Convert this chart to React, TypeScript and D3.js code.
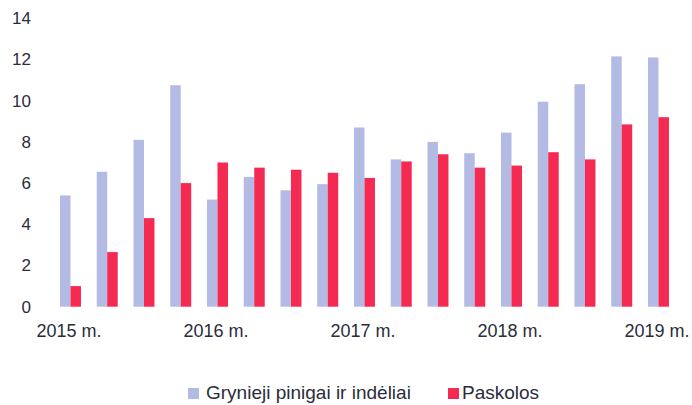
import React from "react";
import * as d3 from "d3";

const quarters = [
  "2015Q1", "2015Q2", "2015Q3", "2015Q4",
  "2016Q1", "2016Q2", "2016Q3", "2016Q4",
  "2017Q1", "2017Q2", "2017Q3", "2017Q4",
  "2018Q1", "2018Q2", "2018Q3", "2018Q4",
  "2019Q1",
];
const cashDeposits = [5.4, 6.55, 8.1, 10.75, 5.2, 6.3, 5.65, 5.95, 8.7, 7.15, 8.0, 7.45, 8.45, 9.95, 10.8, 12.15, 12.1];
const loans = [1.0, 2.65, 4.3, 6.0, 7.0, 6.75, 6.65, 6.5, 6.25, 7.05, 7.4, 6.75, 6.85, 7.5, 7.15, 8.85, 9.2];
const yTicks = [0, 2, 4, 6, 8, 10, 12, 14];
const xLabels: Record<string, string> = {
  "2015Q1": "2015 m.",
  "2016Q1": "2016 m.",
  "2017Q1": "2017 m.",
  "2018Q1": "2018 m.",
  "2019Q1": "2019 m.",
};
const seriesNames = ["Grynieji pinigai ir indėliai", "Paskolos"];
const seriesColors = ["#b3bbe4", "#f42a52"];

const W = 692;
const H = 405;
const FONT = "'Liberation Sans', Arial, sans-serif";
const TEXT = "#2a2d3a";

export default function App() {
  const x = d3
    .scaleBand<string>()
    .domain(quarters)
    .range([52.1, 52.1 + 17 * 36.75])
    .paddingInner(0.4286)
    .paddingOuter(0.4286 / 2);
  const inner = d3
    .scaleBand<string>()
    .domain(["a", "b"])
    .range([0, x.bandwidth()]);
  const y = d3.scaleLinear().domain([0, 14]).range([306.7, 18.3]);

  return (
    <svg
      width={W}
      height={H}
      style={{ position: "absolute", left: 0, top: 0, background: "#fff" }}
    >
      <rect x={0} y={0} width={W} height={H} fill="#fff" />
      {yTicks.map((t) => (
        <text
          key={t}
          x={31}
          y={y(t)}
          dy="0.35em"
          textAnchor="end"
          fontFamily={FONT}
          fontSize={17}
          fill={TEXT}
        >
          {t}
        </text>
      ))}
      {quarters.map((q, i) => (
        <g key={q} transform={`translate(${x(q)},0)`}>
          <rect
            x={inner("a")}
            y={y(cashDeposits[i])}
            width={inner.bandwidth()}
            height={y(0) - y(cashDeposits[i])}
            fill={seriesColors[0]}
          />
          <rect
            x={inner("b")}
            y={y(loans[i])}
            width={inner.bandwidth()}
            height={y(0) - y(loans[i])}
            fill={seriesColors[1]}
          />
        </g>
      ))}
      {quarters
        .filter((q) => xLabels[q])
        .map((q) => (
          <text
            key={q}
            x={(x(q) as number) + x.bandwidth() / 2 - 1.5}
            y={337}
            textAnchor="middle"
            fontFamily={FONT}
            fontSize={18}
            fill={TEXT}
          >
            {xLabels[q]}
          </text>
        ))}
      <g fontFamily={FONT} fontSize={19} fill={TEXT}>
        <rect x={188} y={388} width={11} height={11} fill={seriesColors[0]} />
        <text x={206} y={399}>{seriesNames[0]}</text>
        <rect x={448} y={388} width={11} height={11} fill={seriesColors[1]} />
        <text x={462} y={399}>{seriesNames[1]}</text>
      </g>
    </svg>
  );
}
